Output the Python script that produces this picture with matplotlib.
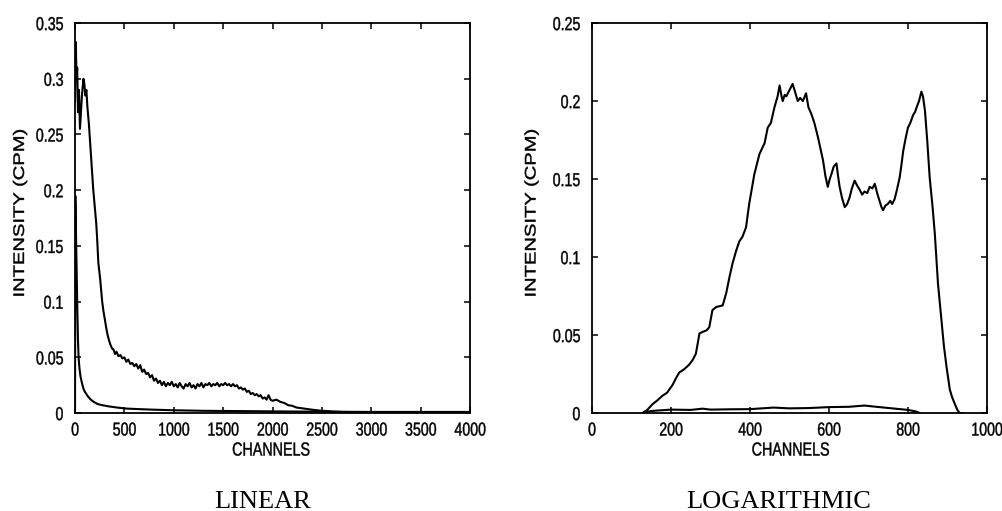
import numpy as np
import matplotlib
matplotlib.use("Agg")
import matplotlib.pyplot as plt
from matplotlib.patheffects import AbstractPathEffect
from matplotlib.transforms import Affine2D
from matplotlib.ticker import MultipleLocator, FormatStrFormatter

SANS = 'Liberation Sans'
SERIF = 'Liberation Serif'


class Stretch(AbstractPathEffect):
    """Draw text taller on the page, scaled about a point of its own box."""

    def __init__(self, sx=1.0, sy=1.32, anchor=(0.5, 0.5), stroke=0.3):
        super().__init__()
        self.sx, self.sy, self.anchor, self.stroke = sx, sy, anchor, stroke

    def draw_path(self, renderer, gc, tpath, affine, rgbFace=None):
        bb = tpath.get_extents(affine)
        px = bb.x0 + self.anchor[0] * bb.width
        py = bb.y0 + self.anchor[1] * bb.height
        sq = Affine2D().translate(-px, -py).scale(self.sx, self.sy).translate(px, py)
        gc.set_linewidth(self.stroke)
        renderer.draw_path(gc, tpath, affine + sq, rgbFace)


# ---- linear binning: channel, intensity ----
lin_ch_a = [0, 8, 15, 22, 30, 40, 50, 60, 70, 85, 95, 105, 115, 125, 140, 155, 170, 185,
            200, 215, 225, 236, 245, 255, 265, 275, 287, 300, 315, 330, 345, 360, 375, 390,
            405, 420, 440, 460, 480, 500, 520, 540, 560, 580, 600, 620, 640, 660, 680, 700,
            720, 740, 760, 780, 800, 820, 840, 860, 880, 900, 920, 940, 960, 980, 1000, 1020,
            1040, 1060, 1080, 1100, 1120, 1140, 1160, 1180, 1200, 1220, 1240, 1260, 1280, 1300,
            1320, 1340, 1360, 1380, 1400, 1420, 1440, 1460, 1480, 1500, 1520, 1540, 1560, 1580,
            1600, 1620, 1640, 1660, 1680, 1700, 1720, 1740, 1760, 1780, 1800, 1820, 1840, 1860,
            1880, 1900, 1920, 1940, 1960, 1980, 2000, 2040, 2080, 2120, 2160, 2200, 2240, 2280,
            2320, 2360, 2400, 2450, 2500, 2550, 2600, 2700, 2800, 3000, 3500, 4000]
lin_val_a = [0.28, 0.333, 0.30, 0.31, 0.27, 0.29, 0.255, 0.27, 0.285, 0.300, 0.295, 0.285,
             0.29, 0.275, 0.26, 0.24, 0.22, 0.20, 0.185, 0.17, 0.155, 0.135, 0.128, 0.12, 0.11,
             0.10, 0.092, 0.085, 0.077, 0.07, 0.065, 0.061, 0.058, 0.057, 0.053, 0.055, 0.051,
             0.052, 0.049, 0.050, 0.046, 0.048, 0.044, 0.045, 0.042, 0.044, 0.040, 0.043, 0.037,
             0.039, 0.035, 0.036, 0.032, 0.034, 0.029, 0.031, 0.027, 0.029, 0.025, 0.028, 0.024,
             0.027, 0.025, 0.028, 0.024, 0.026, 0.023, 0.027, 0.024, 0.022, 0.026, 0.024, 0.027,
             0.023, 0.025, 0.022, 0.026, 0.024, 0.027, 0.023, 0.026, 0.025, 0.027, 0.024, 0.026,
             0.025, 0.027, 0.024, 0.026, 0.025, 0.027, 0.025, 0.026, 0.024, 0.026, 0.024, 0.025,
             0.022, 0.023, 0.021, 0.022, 0.019, 0.020, 0.017, 0.018, 0.016, 0.017, 0.015, 0.016,
             0.013, 0.014, 0.012, 0.016, 0.012, 0.011, 0.012, 0.010, 0.009, 0.007, 0.0065, 0.005,
             0.0045, 0.004, 0.0035, 0.003, 0.0025, 0.002, 0.0018, 0.0014, 0.001, 0.0008, 0.0006,
             0.0005, 0.0004]

lin_ch_b = [0, 3, 8, 12, 18, 24, 30, 36, 45, 55, 70, 85, 100, 130, 160, 190, 230, 280, 340,
            420, 520, 650, 800, 1000, 1300, 1600, 2000, 2500, 3000, 3500, 4000]
lin_val_b = [0.0, 0.195, 0.17, 0.15, 0.12, 0.09, 0.065, 0.05, 0.04, 0.033, 0.027, 0.022, 0.019,
             0.015, 0.012, 0.010, 0.008, 0.007, 0.006, 0.005, 0.004, 0.0035, 0.003, 0.0025,
             0.002, 0.0018, 0.0015, 0.0012, 0.001, 0.001, 0.001]

# ---- logarithmic binning ----
log_ch_a = [128, 140, 153, 165, 178, 190, 204, 212, 221, 233, 246, 255, 263, 268, 272, 280,
            290, 297, 305, 315, 331, 340, 348, 356, 365, 373, 381, 390, 398, 411, 424, 437,
            445, 453, 462, 470, 475, 480, 483, 488, 492, 500, 508, 514, 521, 527, 534, 542,
            548, 555, 563, 572, 578, 585, 591, 597, 602, 606, 612, 619, 623, 627, 633, 640,
            646, 652, 658, 665, 671, 678, 684, 690, 697, 703, 710, 716, 722, 728, 733, 737,
            743, 749, 755, 760, 766, 772, 779, 784, 788, 794, 800, 806, 813, 818, 822, 828,
            834, 838, 843, 849, 855, 862, 868, 876, 885, 891, 898, 906, 912, 919, 925, 931, 940]
log_val_a = [0.0, 0.002, 0.0056, 0.008, 0.011, 0.013, 0.018, 0.022, 0.026, 0.028, 0.031,
             0.034, 0.038, 0.045, 0.051, 0.052, 0.053, 0.055, 0.066, 0.068, 0.069, 0.077,
             0.087, 0.096, 0.104, 0.110, 0.113, 0.119, 0.134, 0.153, 0.166, 0.173, 0.183,
             0.186, 0.196, 0.203, 0.210, 0.203, 0.200, 0.204, 0.203, 0.207, 0.211, 0.206,
             0.200, 0.202, 0.200, 0.205, 0.196, 0.192, 0.186, 0.177, 0.170, 0.162, 0.152,
             0.145, 0.150, 0.153, 0.158, 0.160, 0.152, 0.145, 0.138, 0.132, 0.134, 0.138,
             0.144, 0.149, 0.146, 0.143, 0.140, 0.142, 0.141, 0.145, 0.144, 0.147, 0.141,
             0.136, 0.132, 0.130, 0.133, 0.134, 0.136, 0.134, 0.137, 0.143, 0.151, 0.160,
             0.168, 0.176, 0.183, 0.186, 0.191, 0.193, 0.196, 0.200, 0.206, 0.203, 0.194,
             0.174, 0.151, 0.133, 0.115, 0.083, 0.059, 0.043, 0.029, 0.015, 0.010, 0.0056,
             0.002, 0.0, 0.0]

log_ch_b = [130, 140, 160, 200, 250, 280, 300, 350, 400, 430, 460, 500, 550, 600, 650, 690,
            720, 760, 800, 820, 830]
log_val_b = [0.0, 0.001, 0.0015, 0.0022, 0.002, 0.0028, 0.0022, 0.0024, 0.0025, 0.003, 0.0035,
             0.003, 0.0032, 0.0038, 0.004, 0.0048, 0.004, 0.003, 0.002, 0.001, 0.0]

panels = [
    dict(curves=[(lin_ch_a, lin_val_a), (lin_ch_b, lin_val_b)], xmax=4000, xstep=500,
         ymax=0.35, rect=[0.0748, 0.1917, 0.3938, 0.7632], title='LINEAR',
         title_x=0.262, xlab_x=0.270, ylab_x=0.0199),
    dict(curves=[(log_ch_a, log_val_a), (log_ch_b, log_val_b)], xmax=1000, xstep=200,
         ymax=0.25, rect=[0.5902, 0.1917, 0.3938, 0.7632], title='LOGARITHMIC',
         title_x=0.776, xlab_x=0.788, ylab_x=0.5299),
]

fig = plt.figure(figsize=(10.03, 5.11), dpi=100)

for p in panels:
    ax = fig.add_axes(p['rect'])
    for ch, val in p['curves']:
        ax.plot(ch, val, '-', color='black', lw=1.5)

    ax.set_xlim(0, p['xmax'])
    ax.set_ylim(0, p['ymax'])
    ax.xaxis.set_major_locator(MultipleLocator(p['xstep']))
    ax.yaxis.set_major_locator(MultipleLocator(0.05))
    ax.yaxis.set_major_formatter(FormatStrFormatter('%g'))
    ax.tick_params(direction='in', length=4, width=1.1, top=True, right=True,
                   labelsize=10.2, colors='black')
    ax.tick_params(axis='x', pad=6)
    ax.tick_params(axis='y', pad=8.5)
    for lab in ax.get_xticklabels():
        lab.set_family(SANS)
        lab.set_path_effects([Stretch(anchor=(0.5, 1.0))])
    for lab in ax.get_yticklabels():
        lab.set_family(SANS)
        lab.set_path_effects([Stretch(anchor=(1.0, 0.5))])
    for s in ax.spines.values():
        s.set_linewidth(1.3)

    fig.text(p['xlab_x'], 0.1194, 'CHANNELS', family=SANS, fontsize=10.3,
             ha='center', va='center', path_effects=[Stretch()])
    fig.text(p['ylab_x'], 0.583, 'INTENSITY (CPM)', family=SANS, fontsize=11,
             rotation=90, ha='center', va='center', path_effects=[Stretch()])
    fig.text(p['title_x'], 0.006, p['title'], family=SERIF, fontsize=19,
             ha='center', va='baseline')

fig.savefig('out.png', dpi=100)
